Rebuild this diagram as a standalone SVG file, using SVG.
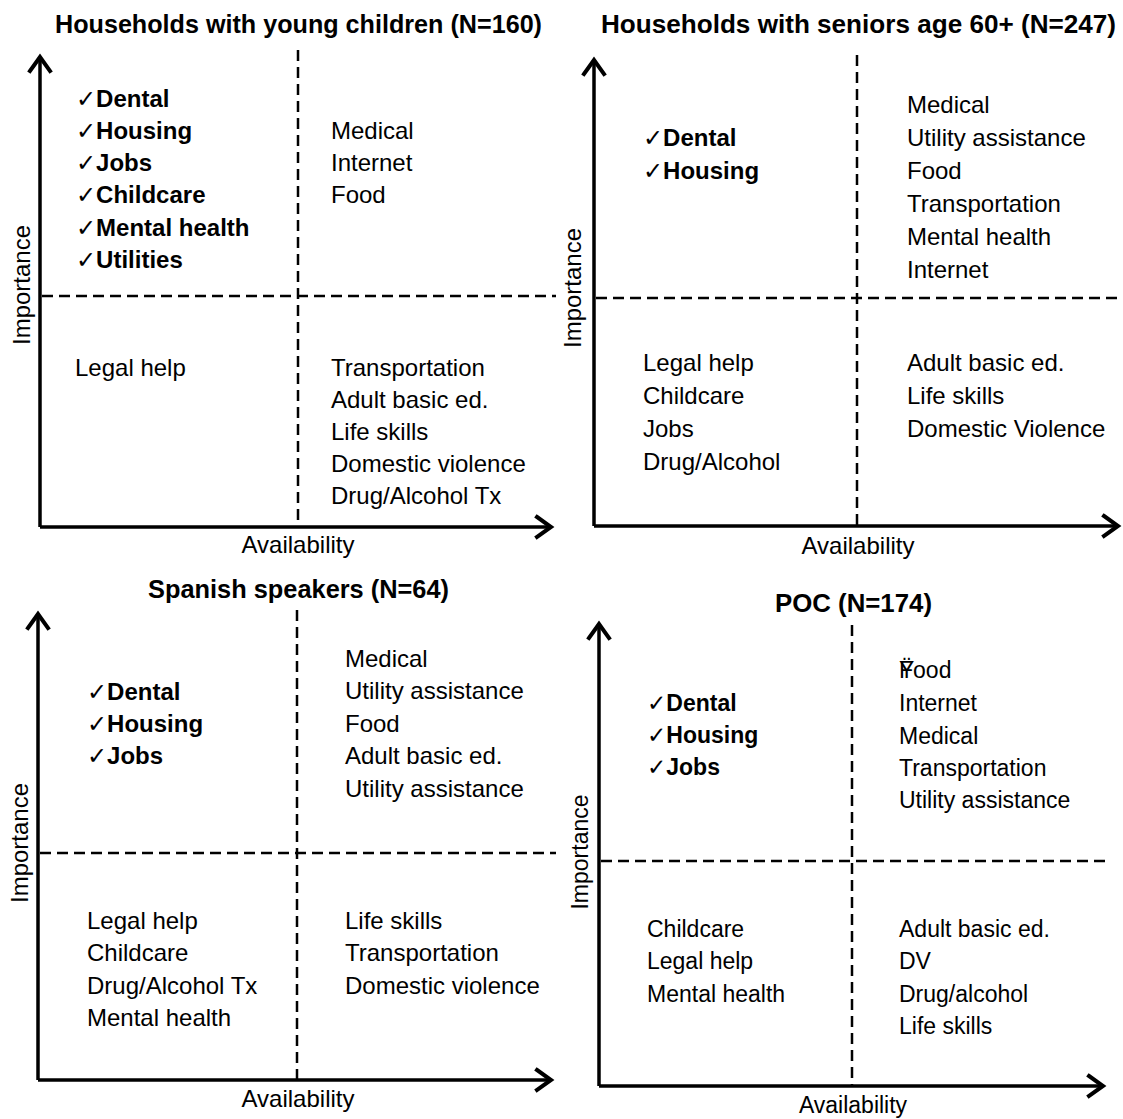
<svg xmlns="http://www.w3.org/2000/svg" width="1123" height="1119" viewBox="0 0 1123 1119">
<defs>
<marker id="chev" markerUnits="userSpaceOnUse" markerWidth="30" markerHeight="30" viewBox="-20 -15 30 30" refX="0" refY="0" orient="auto">
<path d="M -14 -10 L 0 0 L -14 10" fill="none" stroke="#000" stroke-width="4" stroke-linecap="square"/>
</marker>
<style>
text{font-family:"Liberation Sans",Arial,"DejaVu Sans",sans-serif;fill:#000}
.t{font-size:25px;font-weight:bold}
.b{font-size:24px;font-weight:bold}
.r{font-size:24px}
.r4{font-size:23px}
.b4{font-size:23px;font-weight:bold}
.axis{stroke:#000;stroke-width:3.5;fill:none}
.dash{stroke:#000;stroke-width:2.5;stroke-dasharray:11 6;fill:none}
</style>
</defs>
<g id="connectors">
<path class="axis" d="M40 527 L40 57" marker-end="url(#chev)"/>
<path class="axis" d="M40 527 L551 527" marker-end="url(#chev)"/>
<path class="dash" d="M298 50 L298 527"/>
<path class="dash" d="M42 296 L556 296"/>
<path class="axis" d="M594 526 L594 60" marker-end="url(#chev)"/>
<path class="axis" d="M594 526 L1118 526" marker-end="url(#chev)"/>
<path class="dash" d="M857 55 L857 526"/>
<path class="dash" d="M596 298 L1123 298"/>
<path class="axis" d="M38 1080 L38 614" marker-end="url(#chev)"/>
<path class="axis" d="M38 1080 L551 1080" marker-end="url(#chev)"/>
<path class="dash" d="M297 610 L297 1080"/>
<path class="dash" d="M40 853 L556 853"/>
<path class="axis" d="M599 1086 L599 624" marker-end="url(#chev)"/>
<path class="axis" d="M599 1086 L1103 1086" marker-end="url(#chev)"/>
<path class="dash" d="M852 625 L852 1086"/>
<path class="dash" d="M601 861 L1107 861"/>
</g>
<g id="panel-young-children">
<text class="t" x="55" y="33" textLength="487" lengthAdjust="spacingAndGlyphs">Households with young children (N=160)</text>
<text class="r" transform="translate(30 285) rotate(-90)" text-anchor="middle">Importance</text>
<text class="r" x="298" y="553" text-anchor="middle">Availability</text>
<text class="b" x="76" y="107">✓Dental</text>
<text class="b" x="76" y="139">✓Housing</text>
<text class="b" x="76" y="171">✓Jobs</text>
<text class="b" x="76" y="203">✓Childcare</text>
<text class="b" x="76" y="236">✓Mental health</text>
<text class="b" x="76" y="268">✓Utilities</text>
<text class="r" x="331" y="139">Medical</text>
<text class="r" x="331" y="171">Internet</text>
<text class="r" x="331" y="203">Food</text>
<text class="r" x="75" y="376">Legal help</text>
<text class="r" x="331" y="376">Transportation</text>
<text class="r" x="331" y="408">Adult basic ed.</text>
<text class="r" x="331" y="440">Life skills</text>
<text class="r" x="331" y="472">Domestic violence</text>
<text class="r" x="331" y="504">Drug/Alcohol Tx</text>
</g>
<g id="panel-seniors">
<text class="t" x="601" y="33" textLength="515" lengthAdjust="spacingAndGlyphs">Households with seniors age 60+ (N=247)</text>
<text class="r" transform="translate(581 288) rotate(-90)" text-anchor="middle">Importance</text>
<text class="r" x="858" y="554" text-anchor="middle">Availability</text>
<text class="b" x="643" y="146">✓Dental</text>
<text class="b" x="643" y="179">✓Housing</text>
<text class="r" x="907" y="113">Medical</text>
<text class="r" x="907" y="146">Utility assistance</text>
<text class="r" x="907" y="179">Food</text>
<text class="r" x="907" y="212">Transportation</text>
<text class="r" x="907" y="245">Mental health</text>
<text class="r" x="907" y="278">Internet</text>
<text class="r" x="643" y="371">Legal help</text>
<text class="r" x="643" y="404">Childcare</text>
<text class="r" x="643" y="437">Jobs</text>
<text class="r" x="643" y="470">Drug/Alcohol</text>
<text class="r" x="907" y="371">Adult basic ed.</text>
<text class="r" x="907" y="404">Life skills</text>
<text class="r" x="907" y="437">Domestic Violence</text>
</g>
<g id="panel-spanish">
<text class="t" x="148" y="598" textLength="301" lengthAdjust="spacingAndGlyphs">Spanish speakers (N=64)</text>
<text class="r" transform="translate(28 843) rotate(-90)" text-anchor="middle">Importance</text>
<text class="r" x="298" y="1107" text-anchor="middle">Availability</text>
<text class="b" x="87" y="700">✓Dental</text>
<text class="b" x="87" y="732">✓Housing</text>
<text class="b" x="87" y="764">✓Jobs</text>
<text class="r" x="345" y="667">Medical</text>
<text class="r" x="345" y="699">Utility assistance</text>
<text class="r" x="345" y="732">Food</text>
<text class="r" x="345" y="764">Adult basic ed.</text>
<text class="r" x="345" y="797">Utility assistance</text>
<text class="r" x="87" y="929">Legal help</text>
<text class="r" x="87" y="961">Childcare</text>
<text class="r" x="87" y="994">Drug/Alcohol Tx</text>
<text class="r" x="87" y="1026">Mental health</text>
<text class="r" x="345" y="929">Life skills</text>
<text class="r" x="345" y="961">Transportation</text>
<text class="r" x="345" y="994">Domestic violence</text>
</g>
<g id="panel-poc">
<text class="t" x="775" y="612" textLength="157" lengthAdjust="spacingAndGlyphs">POC (N=174)</text>
<text class="r4" transform="translate(588 852) rotate(-90)" text-anchor="middle">Importance</text>
<text class="r4" x="853" y="1113" text-anchor="middle">Availability</text>
<text class="b4" x="647" y="711">✓Dental</text>
<text class="b4" x="647" y="743">✓Housing</text>
<text class="b4" x="647" y="775">✓Jobs</text>
<text class="r4" x="899" y="678">Food</text>
<text class="r4" x="899" y="678">Ÿ</text>
<text class="r4" x="899" y="711">Internet</text>
<text class="r4" x="899" y="744">Medical</text>
<text class="r4" x="899" y="776">Transportation</text>
<text class="r4" x="899" y="808">Utility assistance</text>
<text class="r4" x="647" y="937">Childcare</text>
<text class="r4" x="647" y="969">Legal help</text>
<text class="r4" x="647" y="1002">Mental health</text>
<text class="r4" x="899" y="937">Adult basic ed.</text>
<text class="r4" x="899" y="969">DV</text>
<text class="r4" x="899" y="1002">Drug/alcohol</text>
<text class="r4" x="899" y="1034">Life skills</text>
</g>
</svg>
